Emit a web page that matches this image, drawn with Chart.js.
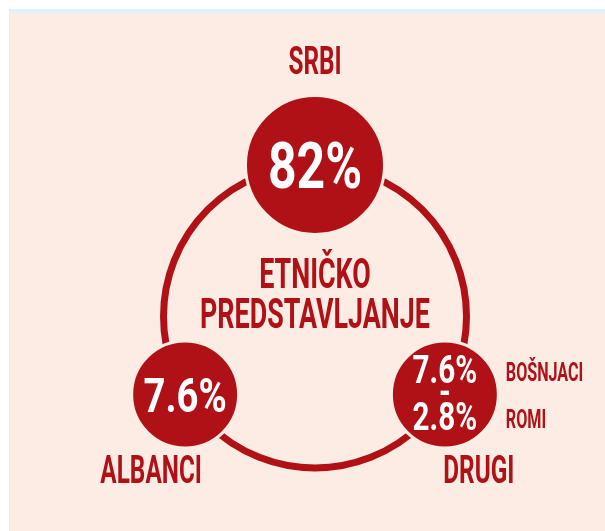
<!DOCTYPE html>
<html>
<head>
<meta charset="utf-8">
<script src="https://cdn.jsdelivr.net/npm/chart.js@4.4.0/dist/chart.umd.min.js"></script>
<style>
    body { margin: 0; background: #ffffff; }
    #panel {
        position: absolute; left: 9px; top: 9px; right: 0; bottom: 0;
        background: #fdece4;
        border-top: 4px solid #e0f1f9;
        border-left: 1px solid #d9eef8;
    }
    #wrap { position: absolute; left: 0; top: 0; width: 605px; height: 531px; }
</style>
</head>
<body>
<div id="panel"></div>
<div id="wrap"><canvas id="etnicko"></canvas></div>
<script>
// data
const groups = ['SRBI', 'ALBANCI', 'DRUGI'];
const shares = [82, 7.6, 7.6];
const secondShares = [null, null, 2.8];
const subGroups = [[], [], ['BOŠNJACI', 'ROMI']];
const titleLines = ['ETNIČKO', 'PREDSTAVLJANJE'];

// layout: where each group sits on the ring (degrees)
const angles = [90, 211, 329];

const RED = '#b01117';
const BG = '#fdece4';

// ring centre / radius in pixels -> used only to set the axis ranges
const CX = 315, CY = 316.5, R = 151.5, W = 605, H = 531;

// one unit of the axes, in pixels (= ring radius)
function unit(chart) {
    const xs = chart.scales.x;
    return xs.getPixelForValue(1) - xs.getPixelForValue(0);
}

const groupPoints = groups.map((g, i) => {
    const a = angles[i] * Math.PI / 180;
    return { x: Math.cos(a), y: Math.sin(a) };
});

function drawText(ctx, txt, x, yMid, size, align, squeeze, color) {
    ctx.save();
    ctx.font = '700 ' + size + 'px Roboto, "Liberation Sans", sans-serif';
    ctx.fillStyle = color;
    ctx.textAlign = align;
    ctx.textBaseline = 'alphabetic';
    ctx.translate(x, yMid + size * 0.355);
    ctx.scale(squeeze, 1);
    ctx.fillText(txt, 0, 0);
    ctx.restore();
}

const fmt = v => v + '%';

// all the texts are drawn after the circles
const textPlugin = {
    id: 'texts',
    afterDatasetsDraw(chart) {
        const ctx = chart.ctx;
        const xs = chart.scales.x, ys = chart.scales.y;
        const cx = xs.getPixelForValue(0), cy = ys.getPixelForValue(0);

        // title in the middle of the ring
        drawText(ctx, titleLines[0], cx, cy - 43.5, 42, 'center', 0.64, RED);
        drawText(ctx, titleLines[1], cx, cy - 3.5, 42, 'center', 0.64, RED);

        const pts = chart.getDatasetMeta(0).data;
        pts.forEach((p, i) => {
            const r = p.options.radius;
            const a = angles[i] * Math.PI / 180;

            // group name
            if (Math.sin(a) > 0) {
                drawText(ctx, groups[i], p.x, p.y - r - 35, 38, 'center', 0.64, RED);
            } else {
                drawText(ctx, groups[i], p.x + Math.sign(Math.cos(a)) * 34, p.y + r + 22, 38, 'center', 0.64, RED);
            }

            // values inside the circle
            if (secondShares[i] == null) {
                drawText(ctx, fmt(shares[i]), p.x, p.y, Math.round(0.92 * r), 'center', 0.78, '#ffffff');
            } else {
                drawText(ctx, fmt(shares[i]), p.x, p.y - 25, 38, 'center', 0.78, '#ffffff');
                drawText(ctx, '-', p.x, p.y - 3, 38, 'center', 0.78, '#ffffff');
                drawText(ctx, fmt(secondShares[i]), p.x, p.y + 22, 38, 'center', 0.78, '#ffffff');
                subGroups[i].forEach((s, k) => {
                    drawText(ctx, s, p.x + r + 7.5, p.y + (k === 0 ? -23 : 24), 26, 'left', 0.62, RED);
                });
            }
        });
    }
};

const ctx = document.getElementById('etnicko').getContext('2d');
const chart = new Chart(ctx, {
    type: 'scatter',
    data: {
        datasets: [
            {
                // the three circles
                label: 'groups',
                data: groupPoints,
                pointRadius: c => (c.dataIndex === 0 ? 0.459 : 0.353) * unit(c.chart),
                pointBackgroundColor: RED,
                pointBorderColor: BG,
                pointBorderWidth: 3,
                clip: false
            },
            {
                // the big ring behind
                label: 'ring',
                data: [{ x: 0, y: 0 }],
                pointRadius: c => unit(c.chart),
                pointBackgroundColor: 'rgba(0,0,0,0)',
                pointBorderColor: RED,
                pointBorderWidth: 7,
                clip: false
            }
        ]
    },
    options: {
        responsive: true,
        maintainAspectRatio: false,
        animation: false,
        events: [],
        layout: { padding: 0 },
        plugins: {
            legend: { display: false },
            tooltip: { enabled: false }
        },
        scales: {
            x: { type: 'linear', display: false, min: -CX / R, max: (W - CX) / R },
            y: { type: 'linear', display: false, min: -(H - CY) / R, max: CY / R }
        }
    },
    plugins: [textPlugin]
});
</script>
</body>
</html>
